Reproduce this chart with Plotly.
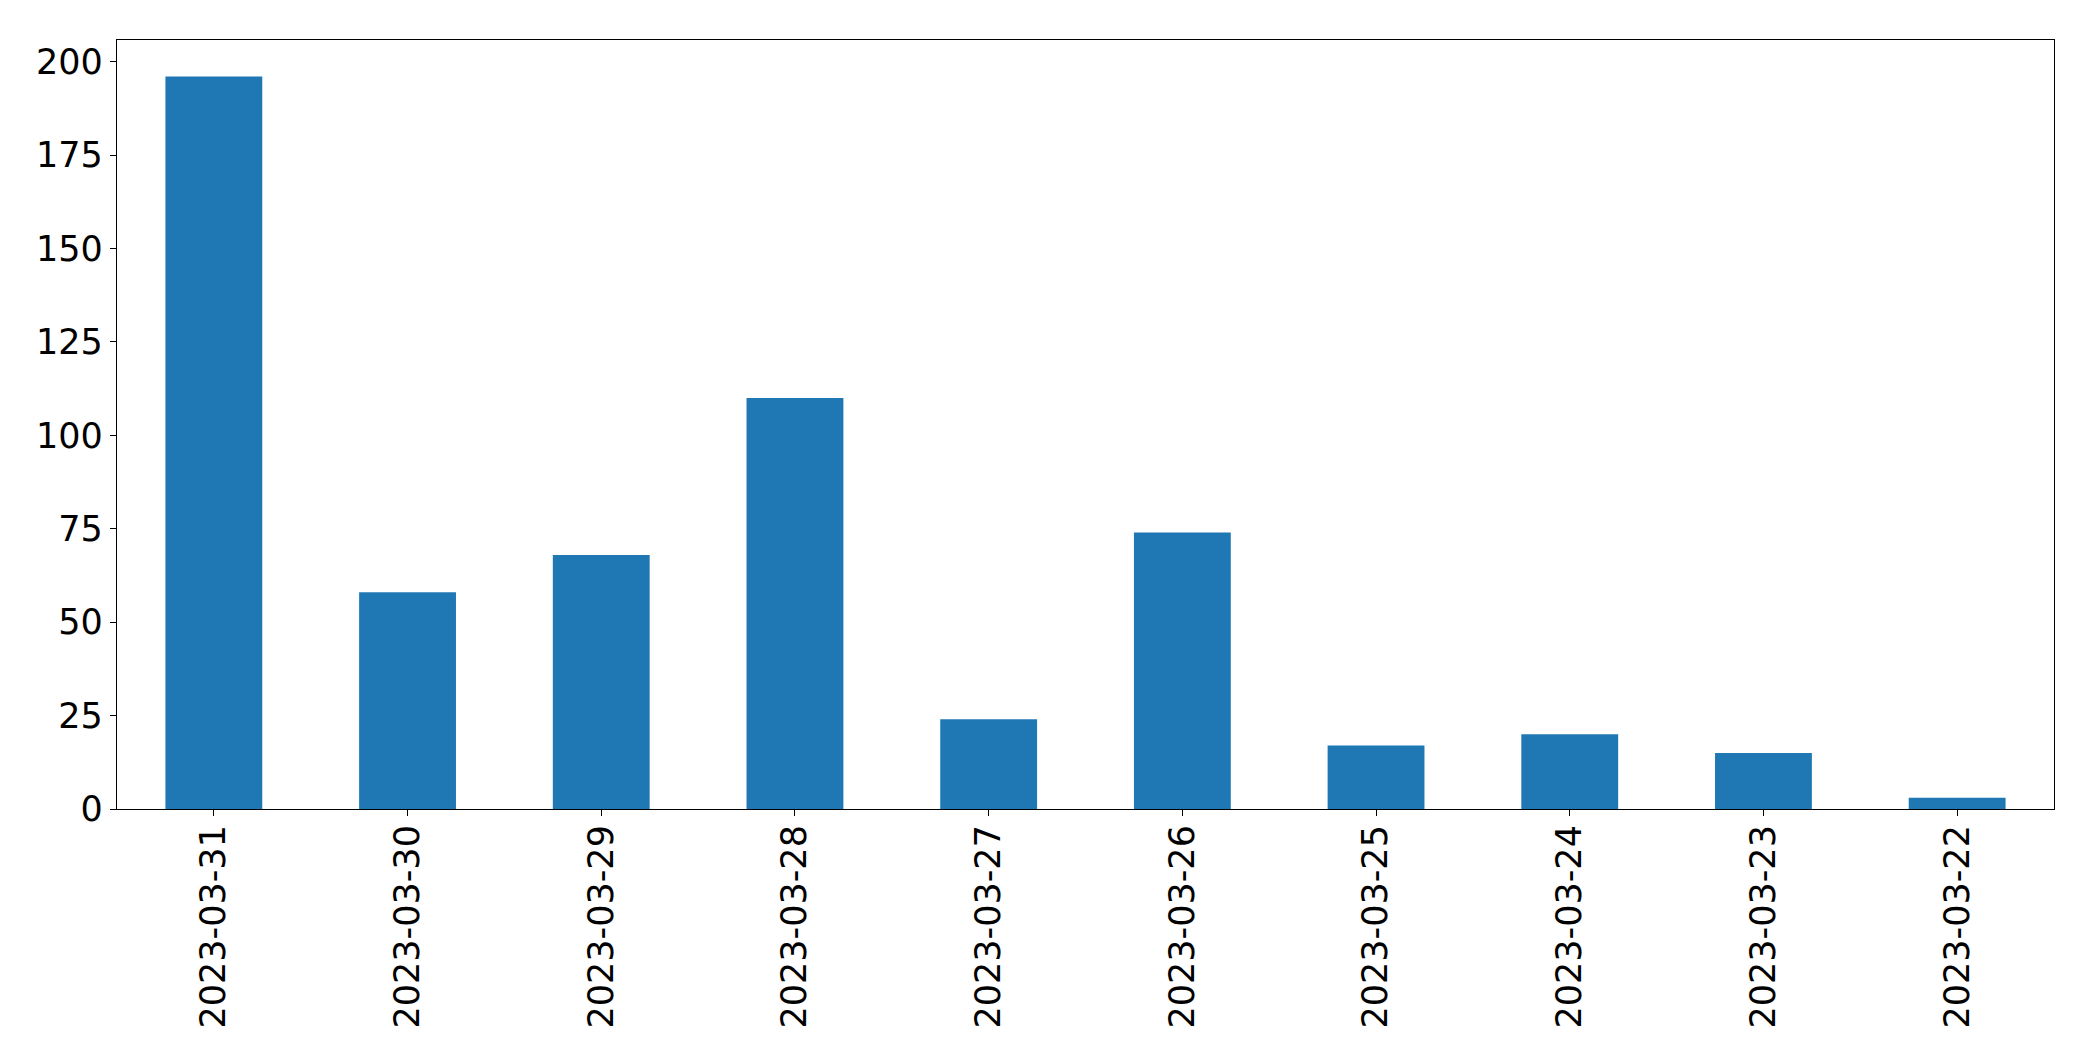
import plotly.graph_objects as go

dates = ["2023-03-31", "2023-03-30", "2023-03-29", "2023-03-28", "2023-03-27",
         "2023-03-26", "2023-03-25", "2023-03-24", "2023-03-23", "2023-03-22"]
counts = [196, 58, 68, 110, 24, 74, 17, 20, 15, 3]
y_ticks = [0, 25, 50, 75, 100, 125, 150, 175, 200]

fig = go.Figure(go.Bar(x=dates, y=counts, marker_color="#1f77b4",
                       marker_line_width=0, width=0.5))

font = dict(family="DejaVu Sans", size=35, color="black")
fig.update_layout(
    width=2093, height=1061,
    margin=dict(l=108.5, r=46.5, t=31.5, b=260, pad=0),
    paper_bgcolor="white", plot_bgcolor="white",
    showlegend=False, font=font,
)
fig.update_xaxes(type="category", range=[-0.5, 9.5], tickangle=-90,
                 automargin=False, ticklabelstandoff=-5,
                 showline=True, mirror=True, linecolor="black", linewidth=1.2,
                 ticks="outside", ticklen=6, tickwidth=1.2, tickcolor="black",
                 showgrid=False, zeroline=False, tickfont=font)
fig.update_yaxes(range=[0, 205.8], tickvals=y_ticks, automargin=False,
                 showline=True, mirror=True, linecolor="black", linewidth=1.2,
                 ticks="outside", ticklen=6, tickwidth=1.2, tickcolor="black",
                 showgrid=False, zeroline=False, tickfont=font)

fig.write_html("out.html")
